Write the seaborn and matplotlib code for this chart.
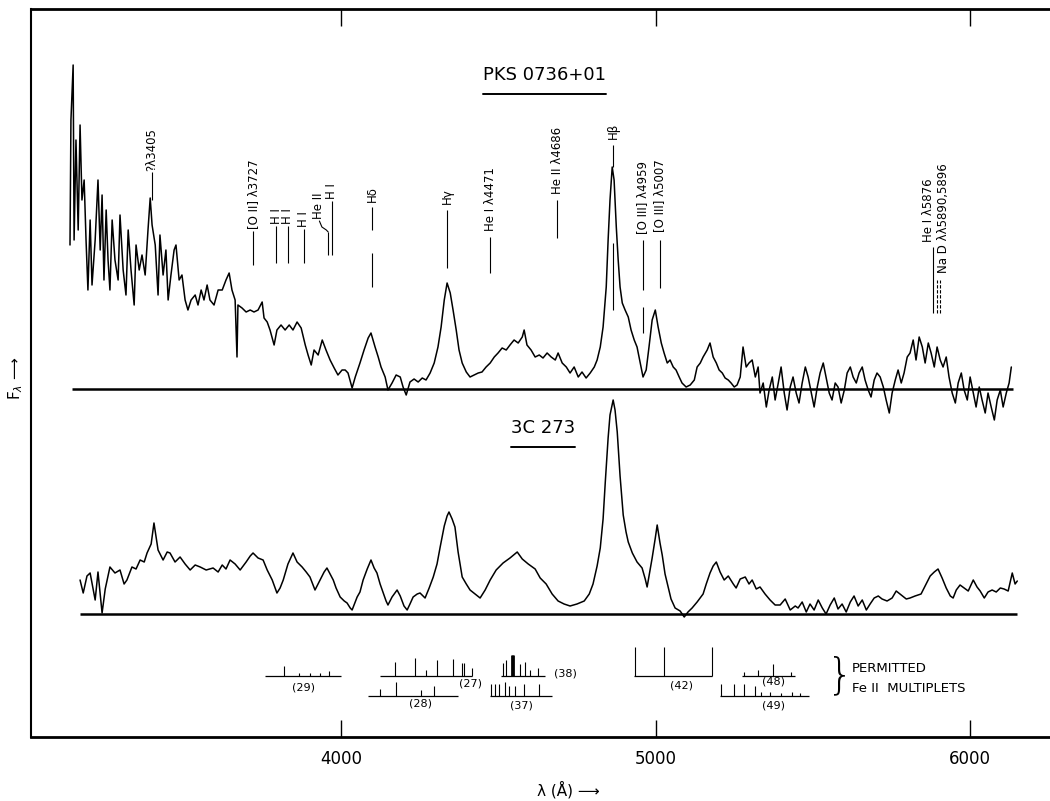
# Optical spectra of PKS 0736+01 and 3C 273 with line identifications
import matplotlib
matplotlib.use("Agg")
import matplotlib.pyplot as plt
import pandas as pd
import seaborn as sns
from matplotlib.lines import Line2D

# PKS 0736+01: wavelength (A) and flux above its zero line (arbitrary units)
PKS_WAVE = [
    3138, 3141, 3148, 3151, 3157, 3164, 3170, 3176, 3183, 3189,
    3195, 3202, 3208, 3218, 3227, 3234, 3240, 3246, 3253, 3259,
    3265, 3272, 3281, 3291, 3297, 3307, 3316, 3323, 3332, 3342,
    3348, 3358, 3367, 3377, 3386, 3393, 3399, 3409, 3418, 3424,
    3434, 3443, 3450, 3459, 3469, 3475, 3485, 3494, 3504, 3513,
    3523, 3536, 3545, 3555, 3564, 3574, 3583, 3596, 3609, 3622,
    3634, 3644, 3653, 3663, 3669, 3672, 3685, 3698, 3711, 3723,
    3736, 3749, 3755, 3765, 3774, 3787, 3796, 3809, 3822, 3835,
    3847, 3860, 3873, 3886, 3895, 3905, 3914, 3927, 3940, 3952,
    3965, 3978, 3990, 4003, 4013, 4022, 4035, 4045, 4060, 4073,
    4086, 4095, 4108, 4118, 4127, 4140, 4149, 4162, 4175, 4188,
    4197, 4207, 4219, 4232, 4245, 4258, 4270, 4283, 4296, 4308,
    4318, 4328, 4337, 4347, 4356, 4366, 4375, 4385, 4398, 4410,
    4423, 4436, 4448, 4461, 4474, 4487, 4499, 4512, 4525, 4537,
    4550, 4563, 4576, 4582, 4591, 4604, 4617, 4630, 4642, 4655,
    4668, 4681, 4690, 4703, 4716, 4728, 4741, 4754, 4766, 4779,
    4792, 4805, 4814, 4824, 4833, 4843, 4849, 4855, 4862, 4868,
    4875, 4881, 4887, 4894, 4903, 4913, 4922, 4932, 4941, 4951,
    4960, 4970, 4979, 4989, 4999, 5008, 5018, 5027, 5037, 5046,
    5056, 5065, 5075, 5084, 5097, 5110, 5123, 5132, 5142, 5151,
    5164, 5173, 5183, 5193, 5202, 5212, 5221, 5231, 5240, 5250,
    5259, 5269, 5278, 5288, 5297, 5307, 5317, 5326, 5332, 5342,
    5352, 5361, 5371, 5380, 5390, 5399, 5409, 5418, 5428, 5437,
    5447, 5456, 5466, 5476, 5485, 5495, 5504, 5514, 5523, 5533,
    5542, 5552, 5561, 5571, 5580, 5590, 5600, 5609, 5619, 5628,
    5638, 5647, 5657, 5666, 5676, 5685, 5695, 5704, 5714, 5724,
    5733, 5743, 5752, 5762, 5771, 5781, 5790, 5800, 5809, 5819,
    5828, 5838, 5848, 5857, 5867, 5876, 5886, 5895, 5905, 5914,
    5924, 5933, 5943, 5953, 5962, 5972, 5981, 5991, 6000, 6010,
    6019, 6029, 6038, 6048, 6057, 6067, 6077, 6086, 6096, 6105,
    6115, 6124, 6131,
]
PKS_FLUX = [
    144, 269, 324, 149, 249, 159, 264, 189, 209, 149,
    99, 169, 104, 149, 209, 139, 194, 109, 179, 129,
    99, 169, 129, 109, 174, 119, 94, 159, 119, 84,
    144, 119, 134, 114, 159, 191, 164, 144, 94, 154,
    114, 139, 89, 114, 139, 144, 109, 114, 89, 79,
    89, 94, 84, 99, 89, 104, 89, 84, 99, 99,
    109, 116, 99, 89, 32, 84, 81, 77, 79, 77,
    79, 87, 71, 67, 59, 44, 59, 64, 59, 64,
    59, 67, 61, 44, 34, 24, 39, 34, 49, 39,
    29, 21, 14, 19, 19, 16, 1, 12, 26, 39,
    51, 56, 42, 32, 22, 12, -1, 6, 14, 12,
    2, -6, 7, 10, 7, 11, 9, 16, 26, 42,
    62, 89, 106, 96, 79, 59, 39, 26, 17, 12,
    14, 16, 17, 22, 26, 32, 36, 41, 39, 44,
    49, 46, 52, 59, 44, 39, 32, 34, 31, 36,
    32, 29, 36, 26, 22, 16, 22, 12, 17, 11,
    16, 22, 29, 42, 62, 102, 149, 189, 222, 209,
    162, 129, 102, 86, 79, 72, 59, 49, 42, 26,
    12, 19, 42, 69, 79, 62, 46, 36, 26, 29,
    22, 19, 12, 6, 2, 4, 9, 22, 26, 32,
    39, 46, 32, 26, 19, 16, 11, 9, 6, 2,
    4, 12, 42, 22, 26, 29, 12, 22, -4, 6,
    -18, -1, 12, -11, 6, 22, -4, -21, 2, 12,
    -4, -14, 6, 22, 12, -4, -18, 2, 16, 26,
    12, -4, -11, 6, 2, -14, -1, 16, 22, 12,
    6, 16, 22, 9, -1, -8, 9, 16, 12, 2,
    -11, -24, -4, 9, 19, 6, 16, 32, 36, 49,
    29, 52, 42, 26, 46, 36, 22, 42, 29, 22,
    32, 12, -4, -14, 6, 16, -1, -11, 12, -4,
    -18, 2, -11, -24, -4, -18, -31, -11, -1, -18,
    -4, 6, 22,
]

# 3C 273: wavelength (A) and flux above its zero line
C273_WAVE = [
    3170, 3180, 3192, 3202, 3218, 3227, 3240, 3250, 3256, 3265,
    3281, 3297, 3310, 3319, 3335, 3348, 3361, 3374, 3383, 3396,
    3405, 3418, 3434, 3447, 3456, 3472, 3488, 3504, 3520, 3536,
    3552, 3571, 3593, 3609, 3622, 3634, 3647, 3663, 3679, 3698,
    3711, 3720, 3736, 3752, 3765, 3781, 3796, 3806, 3816, 3831,
    3847, 3860, 3876, 3889, 3901, 3917, 3933, 3946, 3955, 3965,
    3975, 3984, 3997, 4010, 4019, 4029, 4035, 4051, 4060, 4070,
    4083, 4095, 4105, 4114, 4124, 4134, 4143, 4149, 4162, 4178,
    4188, 4200, 4210, 4219, 4229, 4242, 4251, 4267, 4280, 4293,
    4305, 4315, 4328, 4337, 4343, 4353, 4362, 4372, 4385, 4398,
    4410, 4426, 4442, 4458, 4474, 4493, 4515, 4537, 4560, 4576,
    4595, 4617, 4633, 4652, 4671, 4690, 4709, 4728, 4750, 4773,
    4789, 4801, 4814, 4824, 4833, 4840, 4849, 4855, 4865, 4871,
    4878, 4887, 4897, 4906, 4913, 4926, 4941, 4957, 4967, 4973,
    4979, 4989, 4999, 5005, 5014, 5021, 5030, 5040, 5049, 5062,
    5078, 5091, 5103, 5116, 5132, 5151, 5161, 5173, 5183, 5193,
    5205, 5218, 5231, 5247, 5256, 5269, 5285, 5297, 5307, 5320,
    5332, 5348, 5364, 5380, 5396, 5412, 5428, 5444, 5453, 5466,
    5479, 5491, 5504, 5517, 5530, 5542, 5555, 5568, 5580, 5593,
    5606, 5619, 5631, 5644, 5657, 5670, 5682, 5695, 5708, 5720,
    5736, 5752, 5765, 5781, 5797, 5809, 5825, 5844, 5860, 5873,
    5886, 5898, 5911, 5924, 5937, 5946, 5956, 5968, 5981, 5994,
    6010, 6022, 6032, 6045, 6057, 6070, 6083, 6096, 6108, 6121,
    6134, 6143, 6150,
]
C273_FLUX = [
    34, 21, 38, 41, 14, 42, 1, 25, 34, 47,
    41, 44, 30, 34, 47, 45, 54, 52, 61, 70,
    91, 64, 54, 62, 61, 52, 57, 50, 44, 49,
    47, 44, 46, 42, 49, 45, 54, 50, 44, 52,
    58, 61, 56, 54, 44, 34, 21, 26, 34, 50,
    61, 52, 47, 42, 37, 24, 34, 42, 46, 40,
    34, 26, 17, 13, 11, 6, 4, 17, 22, 34,
    45, 54, 46, 41, 30, 21, 13, 9, 17, 24,
    18, 8, 4, 10, 17, 20, 21, 16, 26, 37,
    50, 67, 88, 98, 102, 95, 87, 62, 37, 30,
    24, 20, 16, 24, 34, 44, 51, 56, 62, 55,
    50, 45, 36, 30, 20, 13, 10, 8, 10, 13,
    20, 30, 48, 66, 95, 132, 176, 199, 214, 204,
    182, 138, 99, 82, 72, 61, 52, 46, 35, 27,
    38, 56, 76, 89, 71, 59, 40, 27, 15, 6,
    3, -3, 2, 6, 12, 20, 30, 41, 48, 52,
    42, 34, 38, 30, 26, 35, 37, 30, 34, 25,
    27, 20, 14, 9, 9, 15, 4, 8, 6, 12,
    2, 10, 4, 14, 6, 0, 9, 16, 5, 10,
    2, 12, 18, 8, 14, 4, 10, 16, 18, 15,
    13, 16, 23, 19, 15, 16, 18, 20, 30, 38,
    42, 45, 36, 26, 18, 16, 24, 29, 26, 23,
    34, 27, 23, 16, 22, 24, 22, 26, 25, 23,
    41, 30, 33,
]

# line identifications marked above the PKS 0736+01 spectrum
ID_LABELS = [
    "?λ3405", "[O II] λ3727", "H I", "H I", "H I", "He II", "H I", "Hδ",
    "Hγ", "He I λ4471", "He II λ4686", "Hβ", "[O III] λ4959", "[O III] λ5007",
    "He I λ5876",
]
ID_WAVES = [3399, 3720, 3793, 3831, 3882, 3959, 3970, 4099,
            4337, 4474, 4687, 4865, 4960, 5014, 5883]
NAD_LABEL = "Na D λλ5890,5896"
NAD_WAVES = [5895, 5905]

# permitted Fe II multiplets: name, wavelength span, line positions, relative strengths
FE_NAMES = ["29", "27", "28", "38", "37", "42", "48", "49"]
FE_SPANS = [(3758, 4000), (4124, 4416), (4087, 4372), (4507, 4647),
            (4474, 4671), (4931, 5178), (5275, 5442), (5205, 5487)]
FE_LINES = [
    [3817, 3866, 3901, 3933, 3962],
    [4172, 4235, 4270, 4305, 4356, 4385, 4391, 4416],
    [4124, 4176, 4253, 4296],
    [4514, 4524, 4543, 4548, 4568, 4584, 4600, 4627],
    [4477, 4490, 4502, 4521, 4533, 4554, 4582, 4630],
    [4933, 5027, 5178],
    [5280, 5324, 5373, 5430],
    [5208, 5250, 5281, 5316, 5335, 5364, 5399, 5434, 5460],
]
FE_STRENGTH = [
    [10, 3, 3, 3, 5],
    [14, 18, 6, 16, 17, 13, 13, 8],
    [7, 14, 6, 10],
    [13, 16, 21, 21, 12, 14, 6, 8],
    [12, 12, 12, 14, 10, 10, 12, 12],
    [29, 29, 29],
    [4, 6, 12, 4],
    [12, 12, 12, 10, 4, 4, 3, 4, 3],
]

# layout (vertical offsets in axis units, not data)
PKS_ZERO = 348
C273_ZERO = 123
ID_TEXT_Y = [566, 508, 513, 513, 510, 518, 538, 535, 533, 506, 543, 598, 503, 505, 495]
ID_TEXT_DX = [0, 0, 0, 0, 0, -32, 0, 0, 0, 0, 0, 0, 0, 0, -16]
ID_TICKS = [
    [(537, 565)], [(472, 506)], [(474, 511)], [(474, 511)], [(474, 508)],
    [(482, 505)], [(482, 536)], [(507, 530), (450, 484)], [(469, 527)],
    [(464, 500)], [(499, 537)], [(570, 592), (427, 494)],
    [(447, 497), (404, 430)], [(449, 497)], [(424, 490)],
]
FE_ROW_Y = [61, 61, 41, 61, 41, 61, 61, 41]
FE_LABEL_POS = [(3880, 50), (4413, 54), (4254, 33), (4712, 64),
                (4574, 32), (5083, 52), (5374, 55), (5374, 32)]


def underline(fig, text, gap=0.011, lw=1.4):
    # draw a rule under a text object, like the hand-lettered titles
    fig.canvas.draw()
    bb = text.get_window_extent(fig.canvas.get_renderer()).transformed(fig.transFigure.inverted())
    fig.add_artist(Line2D([bb.x0, bb.x1], [bb.y0 - gap, bb.y0 - gap],
                          transform=fig.transFigure, color="black", lw=lw))


sns.set_theme(style="white")
plt.rcParams["font.family"] = ["DejaVu Sans"]
plt.rcParams["text.color"] = "black"
plt.rcParams["axes.labelcolor"] = "black"
plt.rcParams["xtick.color"] = "black"

fig = plt.figure(figsize=(10.5, 8.01), dpi=100)
ax = fig.add_axes([31 / 1050, 64 / 801, 1 - 31 / 1050, 728 / 801])

spectra = pd.concat([
    pd.DataFrame({"wave": PKS_WAVE, "flux": [f + PKS_ZERO for f in PKS_FLUX], "source": "PKS 0736+01"}),
    pd.DataFrame({"wave": C273_WAVE, "flux": [f + C273_ZERO for f in C273_FLUX], "source": "3C 273"}),
])
sns.lineplot(data=spectra, x="wave", y="flux", units="source", estimator=None,
             color="black", lw=1.1, ax=ax, legend=False)

# zero lines under each spectrum
ax.hlines(PKS_ZERO, min(PKS_WAVE) + 7, max(PKS_WAVE) + 6, color="black", lw=1.8)
ax.hlines(C273_ZERO, min(C273_WAVE), max(C273_WAVE), color="black", lw=1.8)

# line identifications
for label, wave, ty, dx, segs in zip(ID_LABELS, ID_WAVES, ID_TEXT_Y, ID_TEXT_DX, ID_TICKS):
    for y0, y1 in segs:
        ax.vlines(wave, y0, y1, color="black", lw=0.8)
    ax.text(wave + dx, ty, label, rotation=90, ha="center", va="bottom", fontsize=8.5)
# He II leader
ax.plot([ID_WAVES[5] - 28, ID_WAVES[5] - 20, ID_WAVES[5] - 6, ID_WAVES[5]],
        [ID_TEXT_Y[5] - 2, ID_TEXT_Y[5] - 8, ID_TEXT_Y[5] - 11, ID_TICKS[5][0][1]],
        color="black", lw=0.8)
ax.vlines(NAD_WAVES, 424, 457, color="black", lw=0.8, linestyles=(0, (3, 1.5)))
ax.text(NAD_WAVES[1] + 10, 464, NAD_LABEL, rotation=90, ha="center", va="bottom", fontsize=8.5)

# object names
t1 = ax.text(4646, 662, "PKS 0736+01", ha="center", va="center", fontsize=13)
t2 = ax.text(4642, 309, "3C 273", ha="center", va="center", fontsize=13)

# Fe II multiplet markers
for name, span, lines, strength, row, pos in zip(FE_NAMES, FE_SPANS, FE_LINES, FE_STRENGTH,
                                                FE_ROW_Y, FE_LABEL_POS):
    ax.hlines(row, span[0], span[1], color="black", lw=0.9)
    for w, s in zip(lines, strength):
        ax.vlines(w, row, row + s, color="black", lw=2.0 if s >= 21 and name == "38" else 0.8)
    ax.text(pos[0], pos[1], f"({name})", ha="center", va="center", fontsize=8)

ax.text(5587, 61, "}", ha="center", va="center", fontsize=30, fontweight="ultralight")
ax.text(5625, 69, "PERMITTED", ha="left", va="center", fontsize=9.5)
ax.text(5625, 49, "Fe II  MULTIPLETS", ha="left", va="center", fontsize=9.5)

ax.set_xlim(3014, 6254)
ax.set_ylim(0, 728)
ax.set_xticks([4000, 5000, 6000])
ax.set_xticklabels(["4000", "5000", "6000"])
ax.set_yticks([])
ax.tick_params(axis="x", direction="in", length=12, width=1, top=True, bottom=True,
               labelsize=12, pad=9, color="black", labelcolor="black")
for side in ["left", "top", "bottom"]:
    ax.spines[side].set_color("black")
ax.spines["left"].set_linewidth(1.5)
ax.spines["top"].set_linewidth(2)
ax.spines["bottom"].set_linewidth(2)
ax.spines["right"].set_visible(False)

ax.set_xlabel("λ (Å) ⟶", fontsize=11)
ax.xaxis.set_label_coords(0.527, -0.06)
ax.set_ylabel("F$_{\\lambda}$ ⟶", fontsize=11)
ax.yaxis.set_label_coords(-0.006, 0.493)

underline(fig, t1, gap=0.012)
underline(fig, t2, gap=0.012)

fig.savefig("out.png", dpi=100)
